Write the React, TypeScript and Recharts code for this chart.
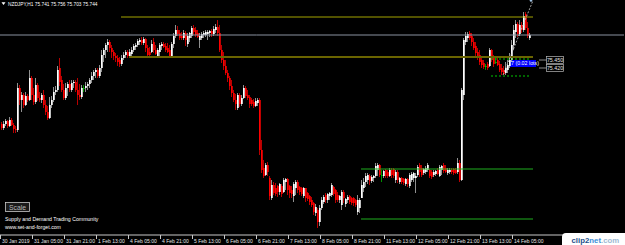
import React from 'react';
import {
  ComposedChart,
  Bar,
  XAxis,
  YAxis,
  ReferenceLine,
  ReferenceArea,
  ReferenceDot,
} from 'recharts';

// H1 candles, NZDJPY: [open, high, low, close]
const candles: [number, number, number, number][] = [
  [74.76,74.78,74.70,74.72],[74.72,74.79,74.70,74.76],[74.76,74.81,74.74,74.79],[74.79,74.80,74.72,74.74],[74.74,74.83,74.73,74.80],[74.80,74.82,74.74,74.75],[74.75,74.77,74.67,74.71],[74.71,74.74,74.67,74.70],
  [74.70,75.17,74.68,75.12],[75.12,75.15,74.95,75.00],[75.00,75.08,74.88,75.05],[75.05,75.07,74.92,74.95],[74.95,75.08,74.94,75.04],[75.04,75.06,74.98,75.00],[75.00,75.30,74.99,75.22],[75.22,75.24,75.00,75.05],
  [75.05,75.12,74.95,74.98],[74.98,75.22,74.96,75.15],[75.15,75.17,74.99,75.02],[75.02,75.08,74.98,75.00],[75.00,75.07,74.97,75.05],[75.05,75.10,74.92,74.95],[74.95,75.00,74.85,74.88],[74.88,74.94,74.80,74.82],
  [74.82,75.03,74.81,74.95],[74.95,75.04,74.92,75.00],[75.00,75.13,74.98,75.08],[75.08,75.14,75.05,75.10],[75.10,75.34,75.08,75.30],[75.32,75.42,75.14,75.18],[75.20,75.24,75.08,75.10],[75.10,75.16,75.00,75.02],
  [75.02,75.17,75.00,75.12],[75.12,75.18,75.04,75.16],[75.16,75.20,75.08,75.10],[75.10,75.20,75.08,75.17],[75.17,75.20,75.12,75.18],[75.18,75.20,75.08,75.10],[75.10,75.22,74.95,75.05],[75.05,75.16,75.00,75.03],
  [75.03,75.15,75.01,75.12],[75.12,75.15,75.08,75.12],[75.12,75.18,75.08,75.14],[75.14,75.18,75.10,75.16],[75.16,75.22,75.12,75.20],[75.20,75.28,75.17,75.24],[75.24,75.30,75.20,75.28],[75.28,75.32,75.22,75.30],
  [75.30,75.32,75.22,75.24],[75.24,75.35,75.22,75.32],[75.32,75.50,75.28,75.45],[75.45,75.52,75.38,75.50],[75.50,75.57,75.42,75.55],[75.55,75.61,75.48,75.58],[75.58,75.60,75.48,75.52],[75.52,75.55,75.42,75.48],
  [75.48,75.50,75.40,75.44],[75.44,75.47,75.38,75.42],[75.42,75.45,75.34,75.38],[75.40,75.43,75.33,75.36],[75.36,75.45,75.34,75.42],[75.42,75.48,75.40,75.45],[75.45,75.50,75.42,75.48],[75.48,75.50,75.42,75.44],
  [75.44,75.51,75.42,75.48],[75.46,75.53,75.42,75.50],[75.50,75.56,75.48,75.54],[75.53,75.57,75.50,75.55],[75.55,75.61,75.53,75.59],[75.58,75.62,75.55,75.60],[75.60,75.63,75.55,75.57],[75.57,75.63,75.55,75.61],
  [75.61,75.62,75.48,75.52],[75.52,75.55,75.43,75.45],[75.48,75.53,75.43,75.45],[75.48,75.60,75.47,75.56],[75.58,75.62,75.47,75.50],[75.50,75.55,75.45,75.46],[75.44,75.52,75.42,75.50],[75.48,75.57,75.42,75.55],
  [75.54,75.58,75.50,75.56],[75.56,75.58,75.52,75.53],[75.54,75.57,75.48,75.50],[75.52,75.57,75.47,75.48],[75.50,75.55,75.42,75.44],[75.44,75.58,75.42,75.56],[75.56,75.67,75.52,75.64],[75.64,75.75,75.62,75.70],
  [75.70,75.74,75.64,75.66],[75.67,75.70,75.60,75.62],[75.64,75.68,75.60,75.62],[75.62,75.70,75.60,75.67],[75.67,75.69,75.54,75.60],[75.56,75.67,75.53,75.64],[75.62,75.68,75.58,75.67],[75.64,75.74,75.62,75.72],
  [75.72,75.75,75.65,75.68],[75.70,75.73,75.63,75.65],[75.67,75.70,75.62,75.63],[75.60,75.67,75.52,75.64],[75.62,75.68,75.60,75.66],[75.65,75.69,75.62,75.67],[75.65,75.70,75.63,75.68],[75.66,75.70,75.60,75.68],
  [75.67,75.70,75.63,75.69],[75.69,75.71,75.63,75.66],[75.66,75.74,75.64,75.71],[75.70,75.76,75.67,75.73],[75.73,75.80,75.64,75.67],[75.67,75.75,75.48,75.50],[75.50,75.55,75.37,75.40],[75.40,75.48,75.30,75.34],
  [75.34,75.40,75.25,75.27],[75.27,75.30,75.18,75.22],[75.22,75.24,75.10,75.14],[75.14,75.20,75.03,75.07],[75.07,75.10,74.98,75.00],[75.00,75.06,74.90,74.96],[74.92,75.07,74.90,75.05],[75.05,75.07,74.93,74.96],
  [74.96,75.05,74.94,75.02],[75.02,75.15,75.01,75.12],[75.12,75.14,75.02,75.04],[75.05,75.10,75.00,75.02],[75.03,75.05,74.92,74.96],[75.00,75.02,74.94,74.96],[74.98,75.01,74.92,74.94],[74.94,75.02,74.93,74.99],
  [74.97,75.02,74.94,75.00],[75.00,75.02,74.45,74.50],[74.50,74.60,74.27,74.30],[74.32,74.40,74.22,74.24],[74.25,74.37,74.24,74.35],[74.35,74.38,74.24,74.28],[74.22,74.24,74.00,74.04],[74.02,74.20,74.00,74.15],
  [74.15,74.18,74.05,74.07],[74.12,74.17,74.04,74.06],[74.14,74.15,74.03,74.08],[74.08,74.17,74.05,74.16],[74.14,74.16,74.03,74.06],[74.08,74.22,74.07,74.20],[74.18,74.22,74.10,74.21],[74.21,74.22,74.05,74.10],
  [74.14,74.15,74.02,74.07],[74.10,74.14,74.02,74.06],[74.04,74.18,73.98,74.16],[74.12,74.20,74.05,74.18],[74.18,74.20,74.07,74.10],[74.13,74.14,74.05,74.08],[74.12,74.13,74.04,74.06],[74.04,74.13,74.02,74.12],
  [74.12,74.12,73.98,74.02],[74.07,74.08,73.99,74.01],[74.04,74.05,73.95,73.98],[74.00,74.03,73.93,73.95],[73.97,73.98,73.85,73.88],[73.87,73.96,73.84,73.93],[73.90,73.92,73.72,73.78],[73.78,73.95,73.74,73.92],
  [73.92,74.03,73.90,74.00],[73.98,74.05,73.96,74.03],[74.05,74.07,73.97,74.00],[74.00,74.07,73.97,74.06],[74.04,74.08,74.00,74.07],[74.05,74.17,74.03,74.15],[74.13,74.14,74.04,74.06],[74.10,74.11,73.97,74.00],
  [74.05,74.08,73.98,74.00],[74.00,74.05,73.97,74.04],[73.95,74.10,73.90,74.08],[74.08,74.10,73.97,74.02],[73.96,74.02,73.93,74.01],[74.00,74.05,73.97,74.03],[74.04,74.05,73.96,73.98],[74.02,74.03,73.95,73.97],
  [74.02,74.03,73.94,73.97],[74.00,74.01,73.93,73.95],[73.88,74.05,73.85,74.00],[73.92,74.02,73.87,74.00],[74.02,74.20,74.02,74.15],[74.12,74.22,74.08,74.18],[74.18,74.27,74.13,74.24],[74.20,74.27,74.16,74.25],
  [74.24,74.26,74.15,74.19],[74.19,74.25,74.17,74.23],[74.22,74.25,74.18,74.24],[74.24,74.37,74.22,74.34],[74.30,74.37,74.24,74.35],[74.35,74.36,74.23,74.25],[74.25,74.30,74.18,74.25],[74.24,74.30,74.22,74.29],
  [74.30,74.31,74.22,74.24],[74.28,74.30,74.22,74.24],[74.24,74.32,74.23,74.30],[74.30,74.32,74.22,74.25],[74.31,74.32,74.22,74.24],[74.20,74.30,74.17,74.28],[74.28,74.30,74.17,74.20],[74.18,74.23,74.16,74.22],
  [74.22,74.23,74.16,74.18],[74.21,74.22,74.15,74.17],[74.16,74.22,74.14,74.21],[74.21,74.22,74.13,74.16],[74.14,74.27,74.12,74.25],[74.20,74.28,74.18,74.26],[74.22,74.28,74.18,74.27],[74.22,74.27,74.07,74.24],
  [74.25,74.35,74.23,74.33],[74.35,74.37,74.23,74.28],[74.32,74.35,74.23,74.25],[74.27,74.32,74.25,74.31],[74.28,74.34,74.26,74.32],[74.30,74.37,74.28,74.35],[74.30,74.31,74.22,74.24],[74.28,74.30,74.21,74.23],
  [74.25,74.30,74.23,74.28],[74.26,74.30,74.24,74.29],[74.30,74.32,74.25,74.26],[74.24,74.35,74.23,74.33],[74.30,74.35,74.25,74.34],[74.35,74.37,74.27,74.29],[74.32,74.35,74.27,74.28],[74.27,74.32,74.25,74.30],
  [74.28,74.32,74.26,74.30],[74.30,74.32,74.26,74.28],[74.31,74.32,74.25,74.27],[74.30,74.32,74.26,74.27],[74.28,74.42,74.26,74.37],[74.37,74.40,74.18,74.20],[74.20,75.12,74.19,75.10],[75.05,75.62,75.00,75.60],
  [75.58,75.68,75.55,75.64],[75.62,75.68,75.58,75.66],[75.67,75.69,75.60,75.62],[75.64,75.67,75.54,75.58],[75.58,75.62,75.50,75.52],[75.54,75.58,75.43,75.47],[75.48,75.52,75.40,75.44],[75.45,75.50,75.35,75.38],
  [75.40,75.42,75.32,75.35],[75.37,75.40,75.31,75.33],[75.34,75.36,75.30,75.34],[75.36,75.38,75.30,75.32],[75.34,75.52,75.33,75.50],[75.50,75.51,75.38,75.40],[75.42,75.45,75.33,75.36],[75.38,75.42,75.36,75.38],
  [75.40,75.42,75.34,75.35],[75.36,75.39,75.28,75.30],[75.32,75.36,75.25,75.28],[75.30,75.34,75.25,75.26],[75.27,75.38,75.25,75.32],[75.30,75.40,75.27,75.35],[75.34,75.47,75.32,75.40],[75.40,75.60,75.38,75.55],
  [75.55,75.75,75.50,75.70],[75.68,75.80,75.62,75.76],[75.76,75.78,75.63,75.66],[75.66,75.80,75.64,75.75],[75.75,75.78,75.67,75.70],[75.70,75.88,75.68,75.84],[75.86,75.88,75.70,75.72],[75.72,75.78,75.62,75.64],
  [75.62,75.67,75.60,75.65],
];

const tickLabels = [
  '30 Jan 2019', '31 Jan 05:00', '31 Jan 21:00', '1 Feb 13:00', '4 Feb 05:00', '4 Feb 21:00',
  '5 Feb 13:00', '6 Feb 05:00', '6 Feb 21:00', '7 Feb 13:00', '8 Feb 05:00', '8 Feb 21:00',
  '11 Feb 13:00', '12 Feb 05:00', '12 Feb 21:00', '13 Feb 13:00', '14 Feb 05:00',
];
const TICK_STEP = 16; // bars between time labels
const SLOTS = 312; // bar slots across the window (incl. empty right margin)

const bidLine = 75.65;
const upperZone = 75.83;
const lowerZone = 75.43;
const supportTop = 74.31;
const supportBottom = 73.81;
const orderLines = [75.41, 75.24];
const orderTagPrices = [75.40, 75.32];
const orderTagLabels = ['75.450', '75.420'];
const orderBox = [75.33, 75.40];
const trendStart = 75.25;
const trendEnd = 75.995;

const FONT = "'Liberation Sans', Arial, sans-serif";

const data = Array.from({ length: SLOTS }, (_, i) => {
  const c = candles[i];
  return c ? { i, o: c[0], h: c[1], l: c[2], c: c[3] } : { i };
});

const CandleShape = (props: any) => {
  const { x, y, width, height, payload } = props;
  if (!payload || payload.h == null) return null;
  const top = Math.min(y, y + height);
  const full = Math.abs(height);
  const range = payload.h - payload.l;
  const k = range > 0 ? full / range : 0;
  const bTop = top + (payload.h - Math.max(payload.o, payload.c)) * k;
  const bBot = top + (payload.h - Math.min(payload.o, payload.c)) * k;
  const cx = Math.floor(x + width / 2);
  const up = payload.c > payload.o;
  const down = payload.c < payload.o;
  const body = up ? '#ffffff' : down ? '#ff0000' : '#00c000';
  const wick = up ? '#909090' : down ? '#b80000' : '#009000';
  return (
    <g>
      <rect x={cx} y={top} width={1} height={Math.max(full, 1)} fill={wick} shapeRendering="crispEdges" />
      <rect x={cx} y={bTop} width={1.75} height={Math.max(bBot - bTop, 1)} fill={body} />
    </g>
  );
};

const AxisTick = (props: any) => {
  const { x, y, payload } = props;
  const label = tickLabels[Math.round(Number(payload.value) / TICK_STEP)];
  return (
    <g>
      <line x1={x - 0.5} x2={x - 0.5} y1={y} y2={y + 4} stroke="#c8c8c8" strokeWidth={1} />
      <text x={x + 1} y={y + 7.6} fontSize={5} fill="#e6e6e6" fontFamily={FONT} textAnchor="start">
        {label}
      </text>
    </g>
  );
};

const PriceTag = (props: any) => {
  const { cx, cy, text } = props;
  return (
    <g>
      <rect x={cx - 8.5} y={cy - 3.5} width={17} height={7} fill="#000" stroke="#b8b8b8" strokeWidth={0.7} />
      <text x={cx} y={cy + 2} fontSize={5.3} fill="#e6e6e6" fontFamily={FONT} textAnchor="middle">
        {text}
      </text>
    </g>
  );
};

export default function App() {
  return (
    <div style={{ position: 'absolute', left: 0, top: 0, width: 625, height: 245, background: '#000', overflow: 'hidden' }}>
      <ComposedChart
        width={625}
        height={245}
        data={data}
        margin={{ top: 0, right: 1, bottom: 0, left: 0 }}
        barCategoryGap={0}
        barGap={0}
      >
        <XAxis
          dataKey="i"
          type="category"
          height={10}
          ticks={tickLabels.map((_, k) => k * TICK_STEP)}
          interval={0}
          tick={<AxisTick />}
          tickLine={false}
          tickSize={0}
          tickMargin={0}
          axisLine={{ stroke: '#c8c8c8' }}
        />
        <YAxis hide type="number" domain={[73.65, 76.0]} allowDataOverflow />

        <ReferenceLine y={bidLine} stroke="#8a92a0" strokeWidth={1} />
        <ReferenceLine segment={[{ x: 60, y: upperZone }, { x: 266, y: upperZone }]} stroke="#a3a300" strokeWidth={1} />
        <ReferenceLine segment={[{ x: 64, y: lowerZone }, { x: 266, y: lowerZone }]} stroke="#6a6400" strokeWidth={2} />
        <ReferenceLine segment={[{ x: 180, y: supportTop }, { x: 266, y: supportTop }]} stroke="#1fae1f" strokeWidth={1} />
        <ReferenceLine segment={[{ x: 180, y: supportBottom }, { x: 266, y: supportBottom }]} stroke="#1fae1f" strokeWidth={1} />

        <Bar
          dataKey={(d: any) => (d.h != null ? [d.l, d.h] : null)}
          shape={<CandleShape />}
          isAnimationActive={false}
        />

        {orderLines.map((p, k) => (
          <ReferenceLine
            key={'ol' + k}
            segment={[{ x: 245, y: p }, { x: 265, y: p }]}
            stroke="#00c800"
            strokeWidth={1}
            strokeDasharray="2 2"
          />
        ))}
        <ReferenceArea
          x1={255}
          x2={267}
          y1={orderBox[0]}
          y2={orderBox[1]}
          fill="#0000ff"
          fillOpacity={1}
          stroke="none"
          label={{ value: '7 (0.02 lots)', position: 'insideLeft', fill: '#ffffff', fontSize: 5.3, offset: 1, fontFamily: FONT }}
        />
        <ReferenceLine
          segment={[{ x: 251, y: trendStart }, { x: 266, y: trendEnd }]}
          stroke="#c8c8c8"
          strokeWidth={0.8}
          strokeDasharray="2 1.5"
          ifOverflow="visible"
        />
        <ReferenceDot x={265} y={trendEnd} r={1.3} fill="#9fc0e0" stroke="none" ifOverflow="visible" />
        {orderTagPrices.map((p, k) => (
          <ReferenceLine
            key={'ld' + k}
            segment={[{ x: 269, y: p }, { x: 273, y: p }]}
            stroke="#b0b0b0"
            strokeWidth={0.8}
          />
        ))}
        {orderTagPrices.map((p, k) => (
          <ReferenceDot
            key={'tag' + k}
            x={277}
            y={p}
            r={1}
            ifOverflow="visible"
            shape={(sp: any) => <PriceTag {...sp} text={orderTagLabels[k]} />}
          />
        ))}
      </ComposedChart>

      <svg
        width={625}
        height={245}
        style={{ position: 'absolute', left: 0, top: 0, pointerEvents: 'none' }}
        fontFamily={FONT}
      >
        <polygon points="1.5,2.2 5.5,2.2 3.5,5" fill="#ffffff" />
        <text x={8} y={6} fontSize={4.8} fill="#ffffff">NZDJPY,H1  75.741 75.756 75.703 75.744</text>
        <rect x={5.5} y={202.5} width={24} height={9} fill="#1a1a1a" stroke="#c8c8c8" strokeWidth={0.8} />
        <text x={17.5} y={209.6} fontSize={6.8} fill="#b8b8b8" textAnchor="middle">Scale</text>
        <text x={5} y={220.6} fontSize={5.2} fill="#ffffff">Supply and Demand Trading Community</text>
        <text x={5} y={229.2} fontSize={5.2} fill="#ffffff">www.set-and-forget.com</text>
        <rect x={562} y={233} width={70} height={16} rx={4} fill="#ffffff" />
        <text x={571.5} y={243} fontSize={7.8} fontWeight={600}>
          <tspan fill="#1d4e89">clip2</tspan>
          <tspan fill="#3b8ed8">net</tspan>
          <tspan fill="#9db9d3">.com</tspan>
        </text>
      </svg>
    </div>
  );
}
